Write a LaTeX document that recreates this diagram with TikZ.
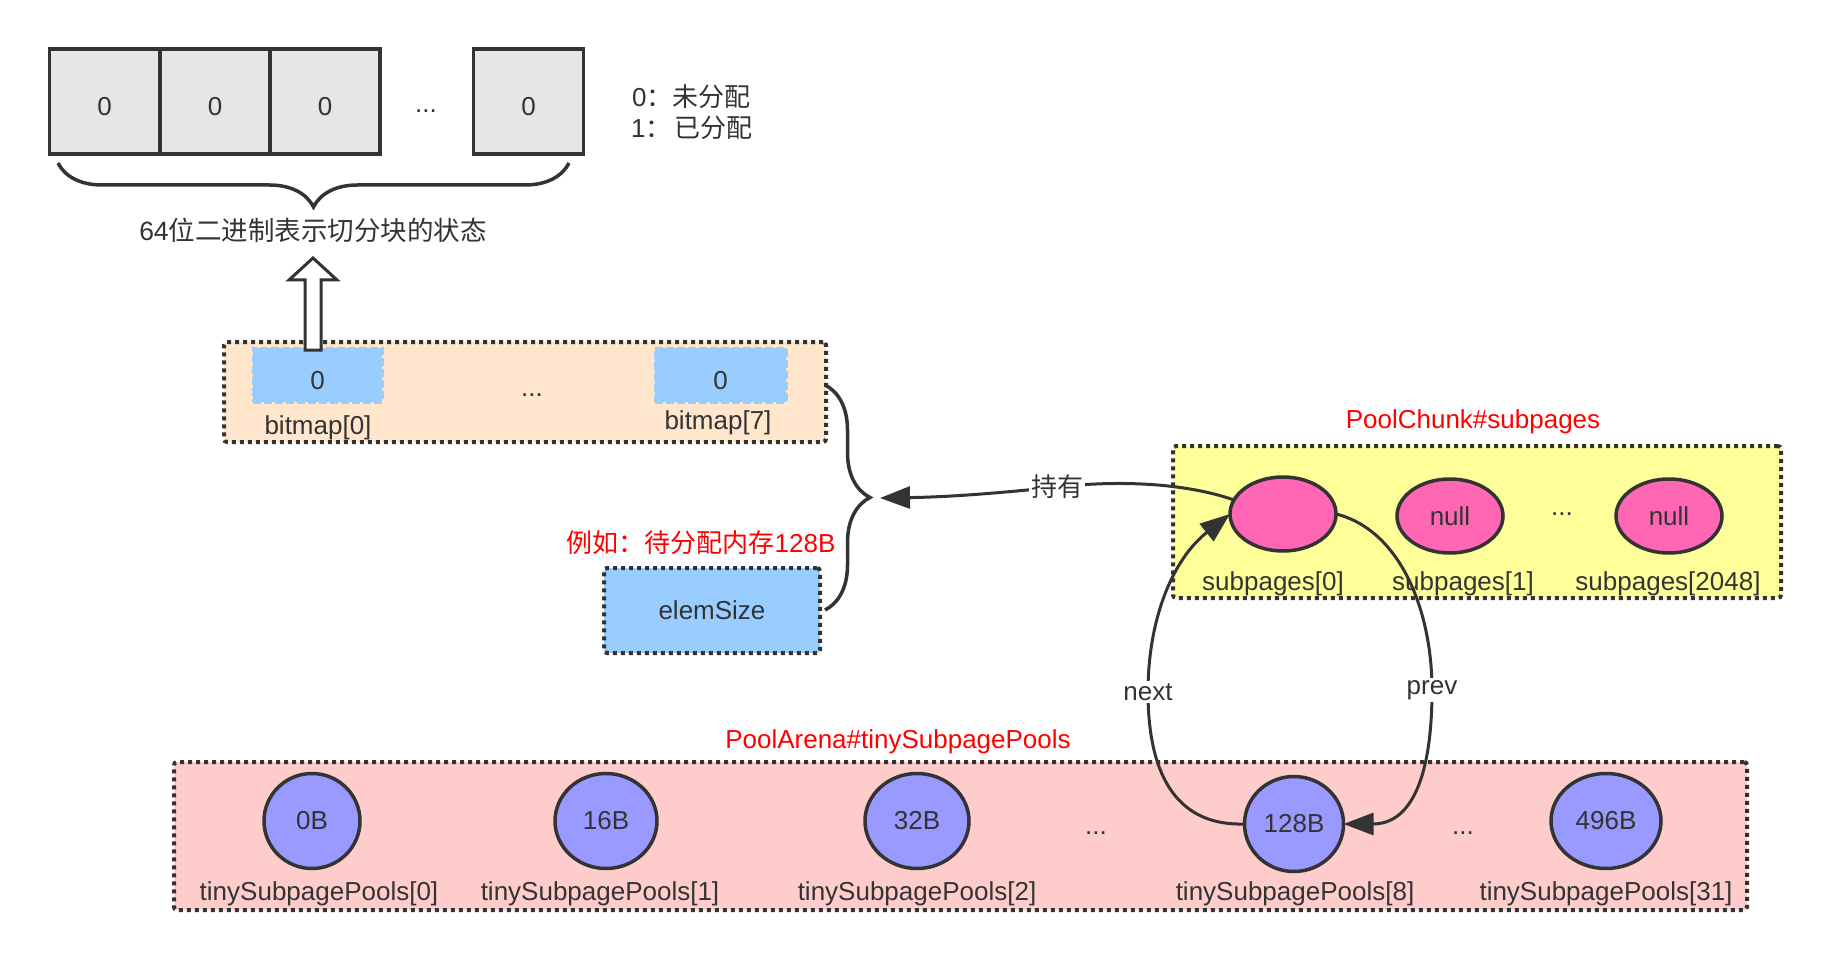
\documentclass[tikz,border=0pt]{standalone}
\usepackage{fontspec}
\setmainfont{Liberation Sans}
\newfontfamily\cjk{Noto Sans CJK SC}
\usetikzlibrary{shapes.geometric,arrows.meta,decorations.pathreplacing}
\definecolor{ink}{HTML}{333333}
\definecolor{cellgray}{HTML}{E6E6E6}
\definecolor{peach}{HTML}{FFE6CC}
\definecolor{skyblue}{HTML}{99CCFF}
\definecolor{paleyellow}{HTML}{FFFF99}
\definecolor{palepink}{HTML}{FFCCCC}
\definecolor{hotpink}{HTML}{FF66B3}
\definecolor{lavender}{HTML}{9999FF}
\definecolor{redtxt}{HTML}{FF0000}
\begin{document}
\begin{tikzpicture}[x=1pt,y=-1pt,
  every node/.style={text=ink,font=\fontsize{26}{31}\selectfont,inner sep=0pt,outer sep=0pt},
  bitcell/.style={draw=ink,line width=3.5pt,fill=cellgray,minimum width=110pt,minimum height=105pt,text height=28pt,text depth=0pt},
  dotframe/.style={draw=ink,line width=4pt,dash pattern=on 4pt off 4pt,rounded corners=3pt},
  bmcell/.style={draw=skyblue,fill=skyblue,line width=3pt,dash pattern=on 8pt off 3pt,text height=28pt,text depth=0pt},
  pinkell/.style={ellipse,draw=ink,line width=3.5pt,fill=hotpink,minimum width=106pt,minimum height=74pt},
  purcirc/.style={ellipse,draw=ink,line width=3.5pt,fill=lavender,minimum width=#1,minimum height=95pt},
  redlbl/.style={text=redtxt},
  conn/.style={draw=ink,line width=3pt,-{Triangle[length=30pt,width=22pt]}},
  tag/.style={fill=white,inner sep=2pt},
  bracepath/.style={draw=ink,line width=3.5pt,decorate,decoration={brace,amplitude=#1}}
]
\useasboundingbox (0,0) rectangle (1831,976);

% top bit cells
\node[bitcell] (c1) at (104.5,101.5) {0};
\node[bitcell] (c2) at (215,101.5) {0};
\node[bitcell] (c3) at (325,101.5) {0};
\node (cdots) at (426,111) {...};
\node[bitcell] (c4) at (528.5,101.5) {0};

\node[anchor=west] (leg0) at (632,97) {0{\cjk ：未分配}};
\node[anchor=west] (leg1) at (631,128) {1{\cjk ：}\hspace{3pt}{\cjk 已分配}};

\draw[bracepath=44pt] (569,163) -- (58,163);
\node[font=\fontsize{26.5}{32}\selectfont] (state) at (313,230) {64{\cjk 位二进制表示切分块的状态}};

% bitmap container
\node[dotframe,fill=peach,minimum width=602pt,minimum height=100pt] (bmc) at (525,392) {};
\node[bmcell,minimum width=129pt,minimum height=54pt] (bm0) at (317.5,375) {0};
\node[bmcell,minimum width=131pt,minimum height=54pt] (bm7) at (720.5,375) {0};
\node (bmdots) at (532,395) {...};
\node (bm0l) at (318,428) {bitmap[0]};
\node (bm7l) at (718,423) {bitmap[7]};

% hollow arrow
\draw[ink,line width=3pt,fill=white,line join=miter]
  (305,350) -- (305,280) -- (289,280) -- (313,258) -- (337,280) -- (321,280) -- (321,350) -- cycle;

% elemSize
\node[redlbl] (ex) at (701,543) {{\cjk 例如：待分配内存}128B};
\node[dotframe,fill=skyblue,minimum width=216pt,minimum height=85pt] (elem) at (712,610.5) {elemSize};
\draw[bracepath=45pt] (825,385) -- (825,610);
\coordinate (holdend) at (880,498);

% PoolChunk subpages
\node[redlbl] (chunkt) at (1473,422) {PoolChunk\#subpages};
\node[dotframe,fill=paleyellow,minimum width=608pt,minimum height=152pt] (chunk) at (1477,522) {};
\node[pinkell] (sp0) at (1283,514) {};
\node[pinkell] (sp1) at (1450,516) {null};
\node (spdots) at (1562,514) {...};
\node[pinkell] (sp2) at (1669,516) {null};
\node (sp0l) at (1273,584) {subpages[0]};
\node (sp1l) at (1463,584) {subpages[1]};
\node (sp2l) at (1668,584) {subpages[2048]};

% PoolArena tinySubpagePools
\node[redlbl] (arenat) at (898,742) {PoolArena\#tinySubpagePools};
\node[dotframe,fill=palepink,minimum width=1573pt,minimum height=148pt] (arena) at (960.5,836) {};
\node[purcirc=96pt] (t0) at (312,821) {0B};
\node[purcirc=102pt] (t1) at (606,821) {16B};
\node[purcirc=104pt] (t2) at (917,821) {32B};
\node (tdots1) at (1096,833) {...};
\node[purcirc=99pt] (t8) at (1294,824) {128B};
\node (tdots2) at (1463,833) {...};
\node[purcirc=110pt] (t31) at (1606,821) {496B};
\node (t0l) at (319,894) {tinySubpagePools[0]};
\node (t1l) at (600,894) {tinySubpagePools[1]};
\node (t2l) at (917,894) {tinySubpagePools[2]};
\node (t8l) at (1295,894) {tinySubpagePools[8]};
\node (t31l) at (1606,894) {tinySubpagePools[31]};

% connectors
\draw[conn] (sp0.164) .. controls (1185,483) and (1120,480) .. (1057,487)
  node[tag] (hold) {\cjk 持有}
  .. controls (1000,493) and (950,497) .. (holdend);
\draw[conn] (t8.west) .. controls (1180,826) and (1148,780) .. (1148,692)
  node[tag] (nextl) {next}
  .. controls (1148,620) and (1172,560) .. (sp0.west);
\draw[conn] (sp0.east) .. controls (1400,530) and (1432,610) .. (1432,690)
  node[tag] (prevl) {prev}
  .. controls (1432,780) and (1410,824) .. (t8.east);
\end{tikzpicture}
\end{document}
